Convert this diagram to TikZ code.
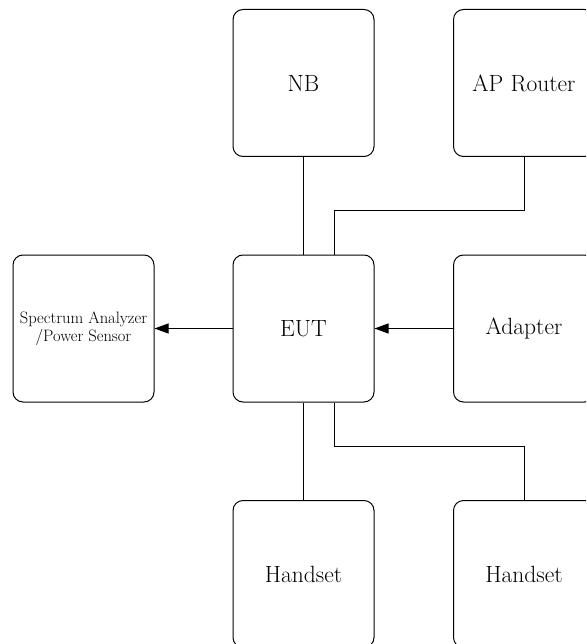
\documentclass[tikz,border=0pt]{standalone}
\usepackage{fontspec}
\usepackage{tikz}
\usetikzlibrary{arrows.meta}

\tikzset{
    unit/.style = {draw, line width=1pt, rounded corners=10pt,
                   minimum width=141pt, minimum height=147pt, align=center,
                   font=\fontsize{23.5}{28}\selectfont},
    link/.style = {line width=1pt},
    feed/.style = {line width=1pt, -{Triangle[length=14pt,width=10pt]}}
}

\begin{document}
\begin{tikzpicture}[x=1pt, y=-1pt]
    \clip (0,0) rectangle (586,644);
    \useasboundingbox (0,0) rectangle (586,644);
    % boxes
    \node[unit] (nb)      at (303.5,83)  {NB};
    \node[unit] (ap)      at (524,83)    {AP Router};
    \node[unit] (eut)     at (303.5,328.5) {EUT};
    \node[unit] (adapter) at (524,328.5) {Adapter};
    \node[unit, font=\fontsize{16.5}{18}\selectfont] (sa) at (83.5,328.5)
        {Spectrum Analyzer\\/Power Sensor};
    \node[unit] (hsa)     at (303.5,574) {Handset};
    \node[unit] (hsb)     at (524,574)   {Handset};
    % connections
    \draw[link] (nb.south) -- (eut.north);
    \draw[link] ([xshift=31pt]eut.north) -- ++(0,-44) -| (ap.south);
    \draw[link] (eut.south) -- (hsa.north);
    \draw[link] ([xshift=31pt]eut.south) -- ++(0,44) -| (hsb.north);
    \draw[feed] (eut.west) -- (sa.east);
    \draw[feed] (adapter.west) -- (eut.east);
\end{tikzpicture}
\end{document}
